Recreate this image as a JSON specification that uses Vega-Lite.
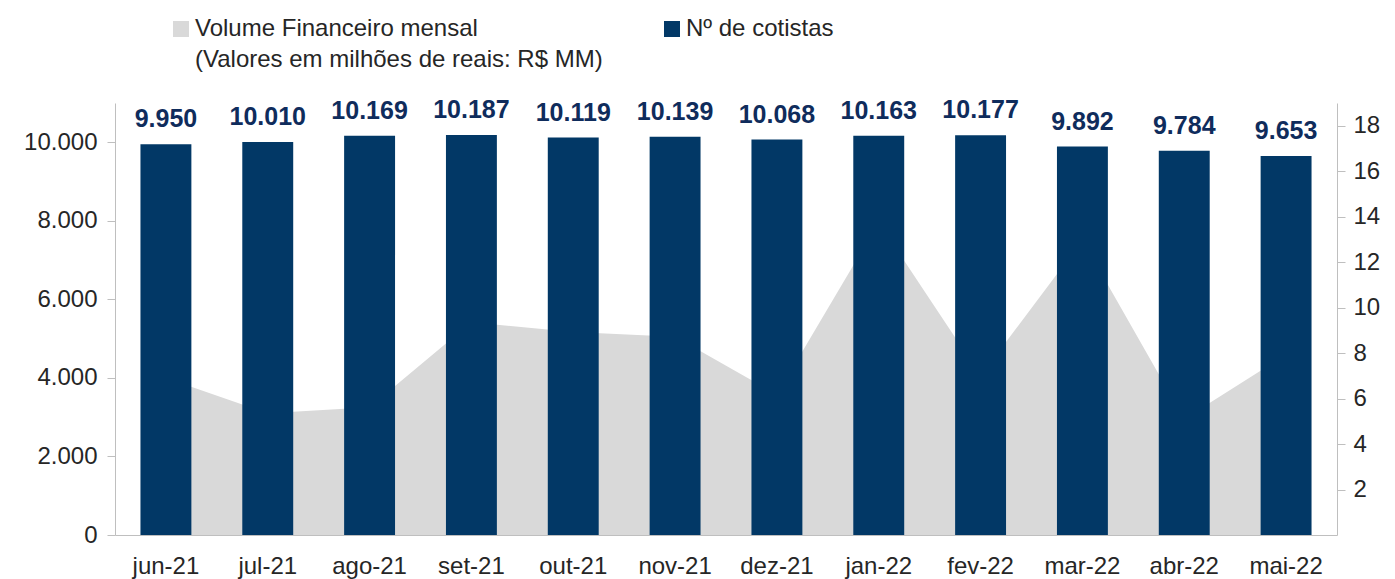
{
  "$schema": "https://vega.github.io/schema/vega-lite/v6.json",
  "width": 1222,
  "height": 432,
  "autosize": {"type": "none"},
  "padding": {"left": 115, "top": 103, "right": 58, "bottom": 44},
  "background": "white",
  "config": {
    "font": "Liberation Sans",
    "view": {"stroke": null},
    "locale": {"number": {"decimal": ",", "thousands": ".", "grouping": [3], "currency": ["R$", ""]}},
    "axis": {"labelFont": "Liberation Sans", "labelFontSize": 24, "labelColor": "#262626", "domainColor": "#BFBFBF", "tickColor": "#BFBFBF", "grid": false, "title": null}
  },
  "data": {
    "values": [
      {"mes": "jun-21", "cotistas": 9950, "volume": 6.9},
      {"mes": "jul-21", "cotistas": 10010, "volume": 5.35},
      {"mes": "ago-21", "cotistas": 10169, "volume": 5.62},
      {"mes": "set-21", "cotistas": 10187, "volume": 9.36},
      {"mes": "out-21", "cotistas": 10119, "volume": 8.93},
      {"mes": "nov-21", "cotistas": 10139, "volume": 8.72},
      {"mes": "dez-21", "cotistas": 10068, "volume": 6.18},
      {"mes": "jan-22", "cotistas": 10163, "volume": 13.75},
      {"mes": "fev-22", "cotistas": 10177, "volume": 7.0},
      {"mes": "mar-22", "cotistas": 9892, "volume": 12.97},
      {"mes": "abr-22", "cotistas": 9784, "volume": 5.1},
      {"mes": "mai-22", "cotistas": 9653, "volume": 7.93}
    ]
  },
  "encoding": {
    "x": {
      "field": "mes", "type": "nominal", "sort": null,
      "scale": {"paddingInner": 0.5, "paddingOuter": 0.25},
      "axis": {"labelAngle": 0, "ticks": false, "labelPadding": 19, "domainWidth": 1}
    }
  },
  "layer": [
    {
      "mark": {"type": "area", "interpolate": "linear", "opacity": 1},
      "encoding": {
        "x": {"field": "mes", "type": "nominal", "sort": null, "bandPosition": 0.5},
        "y": {
          "field": "volume", "type": "quantitative",
          "scale": {"domain": [0, 19], "nice": false, "zero": true},
          "axis": {"orient": "right", "values": [2, 4, 6, 8, 10, 12, 14, 16, 18], "tickSize": 8, "labelPadding": 8}
        },
        "color": {
          "datum": "Volume Financeiro mensal|(Valores em milhões de reais: R$ MM)",
          "type": "nominal",
          "scale": {
            "domain": ["Volume Financeiro mensal|(Valores em milhões de reais: R$ MM)", "Nº de cotistas"],
            "range": ["#D9D9D9", "#023866"]
          },
          "legend": {
            "orient": "none",
            "legendX": 54,
            "legendY": -86,
            "direction": "horizontal",
            "columns": 2,
            "columnPadding": 57,
            "padding": 0,
            "title": null,
            "symbolType": "square",
            "symbolSize": 256,
            "symbolStrokeWidth": 0,
            "symbolOpacity": 1,
            "labelFont": "Liberation Sans",
            "labelFontSize": 24,
            "labelColor": "#262626",
            "labelLimit": 0,
            "labelOffset": 2,
            "labelExpr": "datum.label == 'Nº de cotistas' ? ['Nº de cotistas', ' '] : split(datum.label, '|')",
            "encode": {"labels": {"update": {"lineHeight": {"value": 31}}}}
          }
        }
      }
    },
    {
      "layer": [
        {
          "mark": {"type": "bar"},
          "encoding": {
            "y": {
              "field": "cotistas", "type": "quantitative",
              "scale": {"domain": [0, 11000], "nice": false},
              "axis": {"orient": "left", "values": [0, 2000, 4000, 6000, 8000, 10000], "format": ",d", "tickSize": 8, "labelPadding": 10}
            },
            "color": {"datum": "Nº de cotistas", "type": "nominal"}
          }
        },
        {
          "mark": {"type": "text", "fontWeight": "bold", "fontSize": 25, "color": "#0F2C5C", "baseline": "alphabetic", "dy": -17},
          "encoding": {
            "y": {"field": "cotistas", "type": "quantitative"},
            "text": {"field": "cotistas", "type": "quantitative", "format": ",d"}
          }
        }
      ]
    }
  ],
  "resolve": {"scale": {"y": "independent"}}
}
